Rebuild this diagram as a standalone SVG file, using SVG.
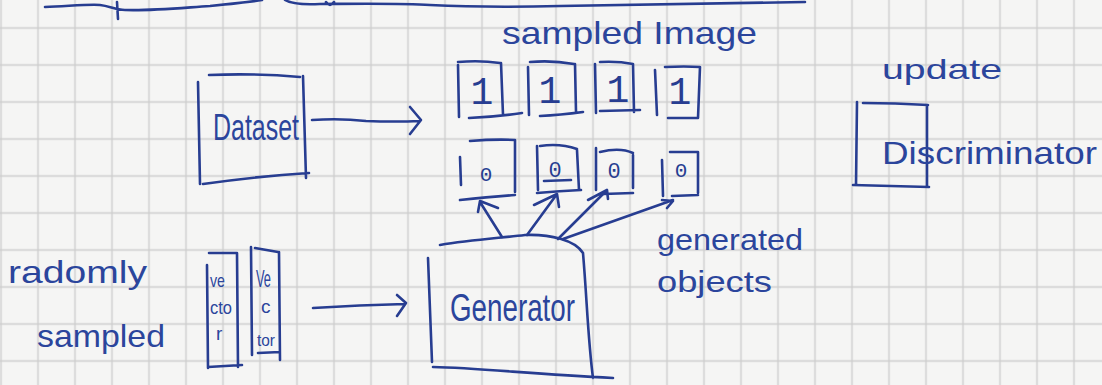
<svg xmlns="http://www.w3.org/2000/svg" width="1102" height="385" viewBox="0 0 1102 385">
  <defs>
    <pattern id="grid" patternUnits="userSpaceOnUse" x="19.5" y="9.5" width="37" height="37">
      <path d="M18.5 0 V37 M0 18.5 H37" stroke="#cdcdcd" stroke-width="1.4" fill="none"/>
    </pattern>
    <style>
      .ink { fill: none; stroke: #273d91; stroke-width: 2.6; stroke-linecap: round; stroke-linejoin: round; }
      .t { fill: #2b459c; font-family: "Liberation Sans", sans-serif; }
      .m { fill: #273d91; font-family: "Liberation Mono", monospace; text-anchor: middle; }
    </style>
  </defs>
  <rect width="1102" height="385" fill="#f5f5f4"/>
  <rect width="1102" height="385" fill="url(#grid)"/>

  <!-- top scribble -->
  <path class="ink" d="M45 7 C70 6 90 4 100 5 C110 6 115 10 125 10 C150 11 180 8 210 6 C230 4 250 2 262 0 M285 0 C290 3 300 5 320 4 C340 4 400 3 430 5 C470 7 520 7 560 6 C620 5 700 3 805 2 M117 2 L118 19 M326 2 Q330 8 334 2"/>

  <!-- labels -->
  <text class="t" x="502" y="44" font-size="32" textLength="255" lengthAdjust="spacingAndGlyphs">sampled Image</text>
  <text class="t" x="882" y="79" font-size="28" textLength="120" lengthAdjust="spacingAndGlyphs">update</text>
  <text class="t" x="657" y="250" font-size="30" textLength="146" lengthAdjust="spacingAndGlyphs">generated</text>
  <text class="t" x="657" y="292" font-size="30" textLength="115" lengthAdjust="spacingAndGlyphs">objects</text>
  <text class="t" x="8" y="283" font-size="32" textLength="139" lengthAdjust="spacingAndGlyphs">radomly</text>
  <text class="t" x="37" y="347" font-size="32" textLength="128" lengthAdjust="spacingAndGlyphs">sampled</text>

  <!-- Dataset -->
  <g id="dataset">
    <path class="ink" d="M198 82 L200 184 M209 75 Q255 73 300 77 M303 76 L306 178 M203 184 Q260 176 309 173"/>
    <text class="t" x="213" y="140" font-size="36" textLength="86" lengthAdjust="spacingAndGlyphs">Dataset</text>
  </g>

  <!-- real samples -->
  <g id="real1">
    <path class="ink" d="M458 65 L459 117 M458 62 Q480 60 500 63 M501 63 L503 115 M469 118 Q495 117 522 113"/>
    <text class="m" x="482" y="104" font-size="38">1</text>
  </g>
  <g id="real2">
    <path class="ink" d="M528 67 L529 115 M530 62 Q552 60 574 64 M575 64 L576 112 M540 116 Q560 115 583 112"/>
    <text class="m" x="550" y="103" font-size="38">1</text>
  </g>
  <g id="real3">
    <path class="ink" d="M595 64 L596 113 M600 62 Q618 61 633 64 M633 64 L634 112 M600 111 L640 110"/>
    <text class="m" x="618" y="102" font-size="38">1</text>
  </g>
  <g id="real4">
    <path class="ink" d="M655 70 L657 115 M665 67 Q685 66 700 67 M700 67 L698 118 M668 118 L697 118"/>
    <text class="m" x="680" y="104" font-size="38">1</text>
  </g>

  <!-- generated samples -->
  <g id="fake1">
    <path class="ink" d="M460 157 L461 185 M470 141 Q495 139 515 140 M515 140 L515 192 M460 200 Q490 197 515 195"/>
    <text class="m" x="486" y="181" font-size="21">0</text>
  </g>
  <g id="fake2">
    <path class="ink" d="M537 146 L538 190 M540 146 Q560 143 577 149 M577 150 L579 190 M537 193 Q560 191 581 190 M544 181 L571 180"/>
    <text class="m" x="555" y="177" font-size="22">0</text>
  </g>
  <g id="fake3">
    <path class="ink" d="M596 148 L596 190 M600 152 Q620 147 633 153 M633 155 L633 188 M603 194 L633 193"/>
    <text class="m" x="614" y="178" font-size="22">0</text>
  </g>
  <g id="fake4">
    <path class="ink" d="M662 160 L663 196 M670 152 L698 152 M698 152 L698 193 M672 196 L698 195"/>
    <text class="m" x="681" y="177" font-size="21">0</text>
  </g>

  <!-- vectors -->
  <g id="vector1">
    <path class="ink" d="M207 265 L208 368 M209 253 L237 253 M237 253 L238 367 M208 367 L242 365"/>
    <text class="t" x="210" y="287" font-size="19" textLength="15" lengthAdjust="spacingAndGlyphs">ve</text>
    <text class="t" x="210" y="314" font-size="19" textLength="22" lengthAdjust="spacingAndGlyphs">cto</text>
    <text class="t" x="216" y="340" font-size="19">r</text>
  </g>
  <g id="vector2">
    <path class="ink" d="M251 247 L252 355 M255 248 L278 252 M279 252 L280 360 M258 353 L280 352"/>
    <text class="t" x="256" y="287" font-size="23" textLength="15" lengthAdjust="spacingAndGlyphs">Ve</text>
    <text class="t" x="261" y="313" font-size="19">c</text>
    <text class="t" x="257" y="346" font-size="17" textLength="18" lengthAdjust="spacingAndGlyphs">tor</text>
  </g>

  <!-- Generator -->
  <g id="generator">
    <path class="ink" d="M440 245 C470 240 500 238 525 235 C550 234 575 240 583 253 M583 253 C587 300 588 340 593 378 M428 258 L432 362 M433 367 C480 368 530 374 613 378"/>
    <text class="t" x="450" y="321" font-size="38" textLength="125" lengthAdjust="spacingAndGlyphs">Generator</text>
  </g>

  <!-- Discriminator -->
  <g id="discriminator">
    <path class="ink" d="M857 102 L856 185 M863 103 Q895 103 928 105 M927 105 L927 187 M853 185 L929 187"/>
    <text class="t" x="882" y="164" font-size="32" textLength="215" lengthAdjust="spacingAndGlyphs">Discriminator</text>
  </g>

  <!-- connectors -->
  <g id="connectors">
    <path class="ink" d="M312 120 Q340 118 366 121 Q395 122 420 121 M410 107 L421 120 L410 134"/>
    <path class="ink" d="M313 308 Q360 305 405 304 M397 295 L406 303 L397 316"/>
    <path class="ink" d="M502 237 L480 202 M478 212 L480 201 L498 208"/>
    <path class="ink" d="M527 235 L557 194 M534 205 L557 194 L559 207"/>
    <path class="ink" d="M558 239 L607 190 M588 200 L607 190 L608 199"/>
    <path class="ink" d="M563 239 L673 200 M662 200 L673 201 L667 208"/>
  </g>
</svg>
